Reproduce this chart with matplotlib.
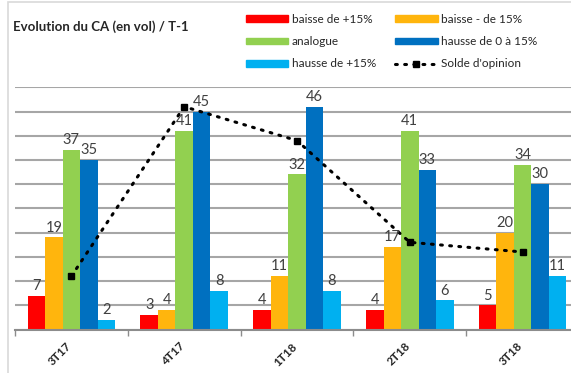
import matplotlib.pyplot as plt
from matplotlib.patches import Patch, Rectangle
from matplotlib.lines import Line2D

plt.rcParams['font.family'] = ['Lato', 'DejaVu Sans']

# Data
quarters = ["3T17", "4T17", "1T18", "2T18", "3T18"]
baisse_plus15 = [7, 3, 4, 4, 5]
baisse_moins15 = [19, 4, 11, 17, 20]
analogue = [37, 41, 32, 41, 34]
hausse_0_15 = [35, 45, 46, 33, 30]
hausse_plus15 = [2, 8, 8, 6, 11]
solde = [11, 46, 39, 18, 16]

series = [
    ("baisse de +15%", baisse_plus15, "#FF0000"),
    ("baisse - de 15%", baisse_moins15, "#FFB50D"),
    ("analogue", analogue, "#92D050"),
    ("hausse de 0 à 15%", hausse_0_15, "#0070C0"),
    ("hausse de +15%", hausse_plus15, "#00B0F0"),
]

fig = plt.figure(figsize=(5.71, 3.73), dpi=100)
ax = fig.add_axes([15 / 571, 43.5 / 373, 564 / 571, 242.2 / 373])

x = list(range(len(quarters)))
w = 0.155
for i, (name, vals, col) in enumerate(series):
    pos = [xi + (i - 2) * w for xi in x]
    bars = ax.bar(pos, vals, width=w, color=col, zorder=2)
    for b, v in zip(bars, vals):
        ax.annotate(str(v), (b.get_x() + b.get_width() / 2, v),
                    xytext=(0, 2), textcoords="offset points",
                    ha="center", va="bottom", fontsize=10.5, color="#404040",
                    zorder=4)

ax.plot(x, solde, color="black", linestyle=(0, (0.6, 2.4)), linewidth=2.2,
        dash_capstyle="round", marker="s", markersize=5, zorder=3)

ax.set_xlim(-0.5, len(quarters) - 0.5)
ax.set_ylim(0, 50)
ax.set_yticks(range(0, 51, 5))
ax.yaxis.grid(True, color="#A6A6A6", linewidth=1.5, zorder=0)
ax.set_axisbelow(True)
ax.tick_params(axis="y", left=False, labelleft=False)
for s in ["top", "right", "left"]:
    ax.spines[s].set_visible(False)
ax.spines["bottom"].set_color("#8C8C8C")
ax.spines["bottom"].set_linewidth(1.5)

ax.set_xticks([xi - 0.5 for xi in x] + [len(quarters) - 0.5])
ax.set_xticklabels([])
ax.tick_params(axis="x", length=4, color="#8C8C8C", width=1)
for xi, q in zip(x, quarters):
    ax.text(xi + 0.02, -2.3, q, rotation=45, ha="right", va="top",
            fontsize=8.5, fontweight="bold", color="#262626")

fig.text(13 / 571, 1 - 27 / 373, "Evolution du CA (en vol) / T-1",
         fontsize=9.5, fontweight="bold", color="#262626", va="center")

handles = [
    Patch(color=series[0][2], label=series[0][0]),
    Patch(color=series[2][2], label=series[2][0]),
    Patch(color=series[4][2], label=series[4][0]),
    Patch(color=series[1][2], label=series[1][0]),
    Patch(color=series[3][2], label=series[3][0]),
    Line2D([], [], color="black", linestyle=(0, (0.6, 2.4)), linewidth=2.2,
           dash_capstyle="round", marker="s", markersize=4,
           label="Solde d'opinion"),
]
leg = fig.legend(handles=handles, ncol=2, loc="upper left",
                 bbox_to_anchor=(240 / 571, 1 - 8 / 373), frameon=False,
                 fontsize=8.5, handlelength=3.6, handleheight=0.5,
                 handletextpad=0.3, labelspacing=0.95, columnspacing=1.6,
                 labelcolor="#262626", borderpad=0)

fig.patches.append(Rectangle((7.5 / 571, -0.1), 1.2, 1.1 - 2.5 / 373,
                             transform=fig.transFigure, fill=False,
                             edgecolor="#D9D9D9", linewidth=1.2))

fig.savefig("out.png", dpi=100)
